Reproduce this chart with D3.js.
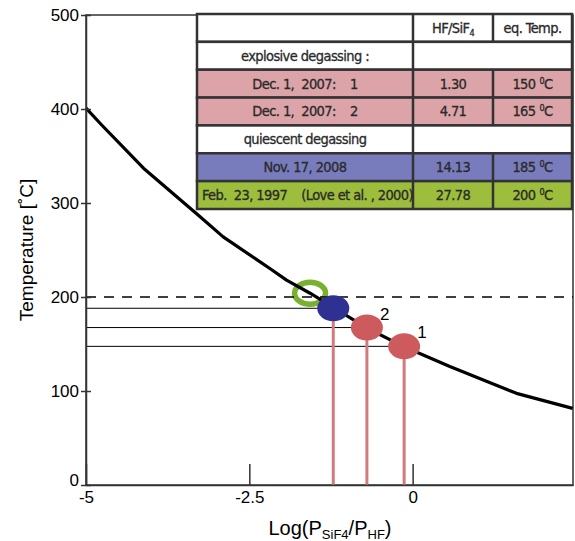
<!DOCTYPE html>
<html>
<head>
<meta charset="utf-8">
<script src="https://cdn.jsdelivr.net/npm/d3@7"></script>
<style>
  body { margin: 0; background: #fff; }
  svg { font-family: "Liberation Sans", Arial, sans-serif; }
  .tbl text { font-family: "Liberation Sans Narrow", "DejaVu Sans Condensed", sans-serif; font-size: 14.5px; letter-spacing: -0.6px; fill: #2a2a2a; stroke: #2a2a2a; stroke-width: 0.3px; white-space: pre; }
</style>
</head>
<body>
<div id="chart"></div>
<script>
// Plot dimensions
var w = 575;
var h = 541;
var margin = {top: 15, right: 2, bottom: 56, left: 86};

// equilibrium curve, log(P_SiF4/P_HF) vs temperature
var curveLog  = [-5.0, -4.76, -4.12, -3.28, -2.90, -2.18, -1.93, -1.57, -1.215, -0.70, -0.13, 0.57, 1.59, 2.45];
var curveTemp = [401, 383, 337, 287, 264, 230, 218, 204, 189, 167, 147, 126, 97.5, 81.5];

// measured samples
var sampleLabel = ["", "", "2", "1"];
var sampleLog   = [-1.57, -1.215, -0.70, -0.13];
var sampleTemp  = [204, 188, 167.5, 147.5];
var sampleKind  = ["ring", "blue", "red", "red"];

var yTicks = [0, 100, 200, 300, 400, 500];
var xTicks = [-5, -2.5, 0];
var refTemp = 200;

// table content
var rowLabels = ["", "explosive degassing :", "Dec. 1,  2007:    1", "Dec. 1,  2007:    2",
                 "quiescent degassing", "Nov. 17, 2008", "Feb.  23, 1997    (Love et al. , 2000)"];
var rowRatio  = ["HF/SiF", "", "1.30", "4.71", "", "14.13", "27.78"];
var rowTemp   = ["eq. Temp.", "", "150", "165", "", "185", "200"];
var rowFill   = ["#fff", "#fff", "#dca4a8", "#dca4a8", "#fff", "#787cbc", "#9dbd3c"];

function main() {
  var svg = d3.select("#chart").append("svg")
    .attr("width", w).attr("height", h);

  var xScale = d3.scaleLinear().domain([-5, 2.455]).range([margin.left, w - margin.right]);
  var yScale = d3.scaleLinear().domain([0, 500]).range([h - margin.bottom, margin.top]);

  var pts = curveLog.map((d, i) => [d, curveTemp[i]]);
  var samples = sampleLog.map((d, i) => ({x: d, t: sampleTemp[i], kind: sampleKind[i], label: sampleLabel[i]}));

  // frame
  svg.append("rect")
    .attr("x", xScale(-5)).attr("y", yScale(500))
    .attr("width", xScale(2.455) - xScale(-5))
    .attr("height", yScale(0) - yScale(500))
    .attr("fill", "none").attr("stroke", "#333").attr("stroke-width", 1.5);

  // green ring (Love et al.)
  samples.filter(d => d.kind === "ring").forEach(d => {
    svg.append("ellipse")
      .attr("cx", xScale(d.x)).attr("cy", yScale(d.t))
      .attr("rx", 15.5).attr("ry", 11)
      .attr("fill", "none").attr("stroke", "#7ab030").attr("stroke-width", 5.5);
  });

  // curve
  svg.append("path")
    .datum(pts)
    .attr("fill", "none")
    .attr("stroke", "#000")
    .attr("stroke-width", 3.2)
    .attr("stroke-linejoin", "round")
    .attr("d", d3.line().x(d => xScale(d[0])).y(d => yScale(d[1])));

  // dashed 200 line
  svg.append("line")
    .attr("x1", xScale(-5)).attr("x2", xScale(2.455))
    .attr("y1", yScale(refTemp)).attr("y2", yScale(refTemp))
    .attr("stroke", "#000").attr("stroke-width", 1.3)
    .attr("stroke-dasharray", "10,8");

  var filled = samples.filter(d => d.kind !== "ring");

  // horizontal guides
  svg.selectAll(".hguide").data(filled).enter().append("line")
    .attr("x1", xScale(-5)).attr("x2", d => xScale(d.x))
    .attr("y1", d => yScale(d.t)).attr("y2", d => yScale(d.t))
    .attr("stroke", "#000").attr("stroke-width", 1);

  // vertical drops
  svg.selectAll(".vguide").data(filled).enter().append("line")
    .attr("x1", d => xScale(d.x)).attr("x2", d => xScale(d.x))
    .attr("y1", d => yScale(d.t)).attr("y2", yScale(0))
    .attr("stroke", "#d27b7d").attr("stroke-width", 3);

  svg.selectAll(".marker").data(filled).enter().append("ellipse")
    .attr("cx", d => xScale(d.x)).attr("cy", d => yScale(d.t))
    .attr("rx", 16).attr("ry", 13)
    .attr("fill", d => d.kind === "blue" ? "#2e3192" : "#cd5a5c");

  svg.selectAll(".mlabel").data(filled.filter(d => d.label)).enter().append("text")
    .attr("x", d => xScale(d.x) + 13).attr("y", d => yScale(d.t) - 8)
    .attr("font-size", "17px")
    .text(d => d.label);

  // y axis
  var yAxis = svg.append("g")
    .attr("transform", "translate(" + margin.left + ",0)")
    .call(d3.axisLeft(yScale).tickValues(yTicks).tickSize(5).tickSizeOuter(0).tickFormat(d3.format("d")));
  yAxis.select(".domain").attr("stroke", "#333").attr("stroke-width", 1.5);
  yAxis.selectAll(".tick line").attr("x1", 5).attr("stroke", "#333").attr("stroke-width", 1.5);
  yAxis.selectAll(".tick text").attr("x", -7).attr("font-size", "17px").attr("fill", "#000")
    .attr("font-family", "Liberation Sans, Arial, sans-serif");
  yAxis.selectAll(".tick").filter(d => d === 0).select("text").attr("dy", "0.05em");

  // x axis
  var xAxis = svg.append("g")
    .attr("transform", "translate(0," + (h - margin.bottom) + ")")
    .call(d3.axisBottom(xScale).tickValues(xTicks).tickSize(-21).tickSizeOuter(0).tickFormat(d => d));
  xAxis.select(".domain").attr("stroke", "#333").attr("stroke-width", 1.5);
  xAxis.selectAll(".tick line").attr("stroke", "#333").attr("stroke-width", 1.5);
  xAxis.selectAll(".tick text").attr("y", 6).attr("font-size", "17px").attr("fill", "#000")
    .attr("font-family", "Liberation Sans, Arial, sans-serif");

  // axis titles
  svg.append("text")
    .attr("transform", "translate(33," + yScale(250) + ") rotate(-90)")
    .attr("text-anchor", "middle")
    .attr("font-size", "19px")
    .text("Temperature [\u02DAC]");

  var xt = svg.append("text")
    .attr("x", 330).attr("y", 535)
    .attr("text-anchor", "middle")
    .attr("font-size", "20px");
  xt.append("tspan").text("Log(P");
  xt.append("tspan").attr("font-size", "13px").attr("dy", 4).text("SiF4");
  xt.append("tspan").attr("dy", -4).text("/P");
  xt.append("tspan").attr("font-size", "13px").attr("dy", 4).text("HF");
  xt.append("tspan").attr("dy", -4).text(")");

  // table
  var colX = [197, 413, 493, 572];
  var rowY = d3.scaleBand().domain(d3.range(rowLabels.length)).range([14, 209]);
  var tbl = svg.append("g").attr("class", "tbl");

  var rows = tbl.selectAll(".row").data(rowLabels).enter().append("g")
    .attr("transform", (d, i) => "translate(0," + rowY(i) + ")");

  rows.append("rect")
    .attr("x", colX[0]).attr("width", colX[3] - colX[0])
    .attr("height", rowY.bandwidth())
    .attr("fill", (d, i) => rowFill[i])
    .attr("stroke", "#333").attr("stroke-width", 2.5);

  // column separators (merged cells in section header rows)
  rows.append("line")
    .attr("x1", colX[1]).attr("x2", colX[1])
    .attr("y1", 0).attr("y2", rowY.bandwidth())
    .attr("stroke", "#333").attr("stroke-width", 2.5);
  rows.filter((d, i) => rowRatio[i] !== "").append("line")
    .attr("x1", colX[2]).attr("x2", colX[2])
    .attr("y1", 0).attr("y2", rowY.bandwidth())
    .attr("stroke", "#333").attr("stroke-width", 2.5);

  var cy = rowY.bandwidth() / 2 + 5;
  rows.append("text")
    .attr("x", (d, i) => i === 6 ? colX[0] + 5 : (colX[0] + colX[1]) / 2)
    .attr("y", cy)
    .attr("text-anchor", (d, i) => i === 6 ? "start" : "middle")
    .text(d => d);

  rows.each(function(d, i) {
    var g = d3.select(this);
    if (rowRatio[i] !== "") {
      var t = g.append("text").attr("x", (colX[1] + colX[2]) / 2).attr("y", cy).attr("text-anchor", "middle");
      t.append("tspan").text(rowRatio[i]);
      if (i === 0) t.append("tspan").attr("font-size", "9px").attr("dy", 3).text("4");
    }
    if (rowTemp[i] !== "") {
      var t2 = g.append("text").attr("x", (colX[2] + colX[3]) / 2).attr("y", cy).attr("text-anchor", "middle");
      t2.append("tspan").text(rowTemp[i]);
      if (i > 0) {
        t2.append("tspan").attr("font-size", "9px").attr("dx", 4).attr("dy", -5).text("0");
        t2.append("tspan").attr("dy", 5).text("C");
      }
    }
  });
}

window.onload = function() {
  main();
};
</script>
</body>
</html>
